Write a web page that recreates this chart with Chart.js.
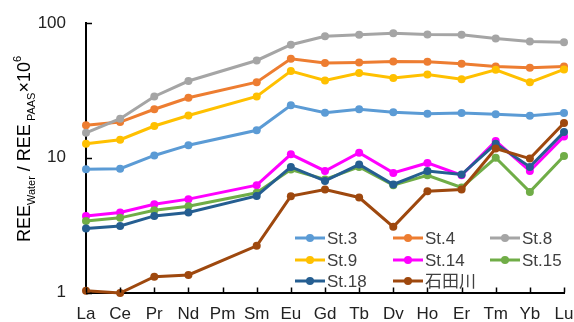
<!DOCTYPE html>
<html>
<head>
<meta charset="utf-8">
<script src="https://cdn.jsdelivr.net/npm/chart.js@4.4.1/dist/chart.umd.min.js"></script>
<style>
html,body{margin:0;padding:0;background:#fff;}
#wrap{width:574px;height:322px;position:relative;}
</style>
</head>
<body>
<div id="wrap"><canvas id="c" width="574" height="322"></canvas></div>
<script>
const categories = ['La','Ce','Pr','Nd','Pm','Sm','Eu','Gd','Tb','Dv','Ho','Er','Tm','Yb','Lu'];
const yTicks = [1, 10, 100];
const seriesNames = ['St.3','St.4','St.8','St.9','St.14','St.15','St.18','石田川'];
const st3 = [8.2, 8.3, 10.4, 12.4, null, 16.0, 24.5, 21.6, 22.9, 21.8, 21.2, 21.5, 21.0, 20.5, 21.5];
const st4 = [17.4, 18.4, 22.9, 27.9, null, 36.4, 54.3, 50.4, 51.0, 51.9, 51.6, 49.9, 47.6, 46.6, 47.6];
const st8 = [15.3, 19.5, 28.5, 37.1, null, 52.7, 69.0, 79.8, 81.8, 84.0, 82.2, 81.8, 76.8, 72.9, 72.1];
const st9 = [12.7, 13.6, 17.2, 20.6, null, 28.5, 44.0, 37.5, 42.5, 39.0, 41.5, 38.3, 45.0, 36.3, 45.2];
const st14 = [3.7, 3.93, 4.52, 4.93, null, 6.26, 10.6, 7.98, 10.9, 7.72, 9.15, 7.42, 13.3, 7.98, 14.4];
const st15 = [3.4, 3.58, 4.08, 4.37, null, 5.49, 8.18, 6.9, 8.55, 6.26, 7.42, 6.02, 10.0, 5.58, 10.3];
const st18 = [2.99, 3.12, 3.7, 3.93, null, 5.21, 8.55, 6.73, 8.9, 6.33, 7.98, 7.51, 12.7, 8.55, 15.5];
const ishida = [1.03, 0.99, 1.31, 1.35, null, 2.22, 5.19, 5.81, 5.07, 3.07, 5.65, 5.81, 11.7, 9.86, 18.1];
const seriesValues = [st3, st4, st8, st9, st14, st15, st18, ishida];
const colors = ['#5B9BD5','#ED7D31','#A5A5A5','#FFC000','#FF00FF','#70AD47','#255E91','#9E480E'];

const FONT = '"Liberation Sans", Arial, "Noto Sans CJK JP", sans-serif';

const datasets = seriesNames.map((n, i) => ({
  label: n,
  data: seriesValues[i],
  borderColor: colors[i],
  backgroundColor: colors[i],
  pointBackgroundColor: colors[i],
  pointBorderColor: colors[i],
  borderWidth: 3,
  pointRadius: 4,
  pointBorderWidth: 0,
  pointHoverRadius: 4,
  spanGaps: true,
  tension: 0,
  clip: false,
  order: seriesNames.length - i
}));

const decor = {
  id: 'decor',
  afterDraw(chart) {
    const ctx = chart.ctx;
    const xs = chart.scales.x, ys = chart.scales.y;
    const ca = chart.chartArea;
    ctx.save();
    ctx.strokeStyle = '#000';
    ctx.lineWidth = 1.5;
    ctx.beginPath();
    for (let i = 0; i < categories.length; i++) {
      const x = Math.round(xs.getPixelForTick(i)) + 0.5;
      ctx.moveTo(x, ca.bottom);
      ctx.lineTo(x, ca.bottom - 5);
    }
    yTicks.forEach(v => {
      const y = Math.round(ys.getPixelForValue(v)) + 0.5;
      ctx.moveTo(ca.left, y);
      ctx.lineTo(ca.left + 6, y);
    });
    ctx.stroke();

    const cols = [295, 393, 490];
    const rows = [238, 260, 281];
    ctx.font = '17px ' + FONT;
    ctx.textBaseline = 'middle';
    ctx.textAlign = 'left';
    seriesNames.forEach((n, i) => {
      const cx = cols[i % 3], cy = rows[Math.floor(i / 3)];
      ctx.strokeStyle = colors[i];
      ctx.lineWidth = 3;
      ctx.beginPath();
      ctx.moveTo(cx, cy);
      ctx.lineTo(cx + 30, cy);
      ctx.stroke();
      ctx.fillStyle = colors[i];
      ctx.beginPath();
      ctx.arc(cx + 15, cy, 4, 0, Math.PI * 2);
      ctx.fill();
      ctx.fillStyle = '#404040';
      ctx.fillText(n, cx + 32, cy + 1);
    });

    const parts = [
      {t: 'REE', s: 18, dy: 0},
      {t: 'Water', s: 11, dy: 5},
      {t: ' / REE', s: 18, dy: 0},
      {t: ' PAAS', s: 11, dy: 5},
      {t: '×10', s: 18, dy: 0},
      {t: '6', s: 11, dy: -9}
    ];
    let total = 0;
    parts.forEach(p => { ctx.font = p.s + 'px ' + FONT; p.w = ctx.measureText(p.t).width; total += p.w; });
    ctx.translate(30, 149);
    ctx.rotate(-Math.PI / 2);
    ctx.fillStyle = '#000';
    ctx.textBaseline = 'alphabetic';
    let x = -total / 2;
    parts.forEach(p => {
      ctx.font = p.s + 'px ' + FONT;
      ctx.fillText(p.t, x, p.dy);
      x += p.w;
    });
    ctx.restore();
  }
};

new Chart(document.getElementById('c'), {
  type: 'line',
  data: { labels: categories, datasets },
  options: {
    responsive: false,
    devicePixelRatio: 1,
    animation: false,
    events: [],
    layout: { padding: { top: 23, right: 10, left: 0, bottom: 0 } },
    plugins: { legend: { display: false }, tooltip: { enabled: false } },
    scales: {
      x: {
        type: 'category',
        offset: false,
        grid: { display: false, drawTicks: false },
        border: { display: true, color: '#000', width: 2 },
        ticks: { color: '#222', font: { size: 17, family: FONT }, padding: 12, autoSkip: false, maxRotation: 0 },
        afterFit(s) { s.height = 29.5; s.paddingLeft = 0; s.paddingRight = 0; }
      },
      y: {
        type: 'logarithmic',
        min: 1,
        max: 100,
        grid: { display: false, drawTicks: false },
        border: { display: true, color: '#000', width: 2 },
        afterBuildTicks(s) { s.ticks = yTicks.map(v => ({ value: v, major: true })); },
        ticks: { color: '#222', font: { size: 17, family: FONT }, padding: 20, callback: v => String(v) },
        afterFit(s) { s.width = 86; s.paddingTop = 0; s.paddingBottom = 0; }
      }
    }
  },
  plugins: [decor]
});
</script>
</body>
</html>
